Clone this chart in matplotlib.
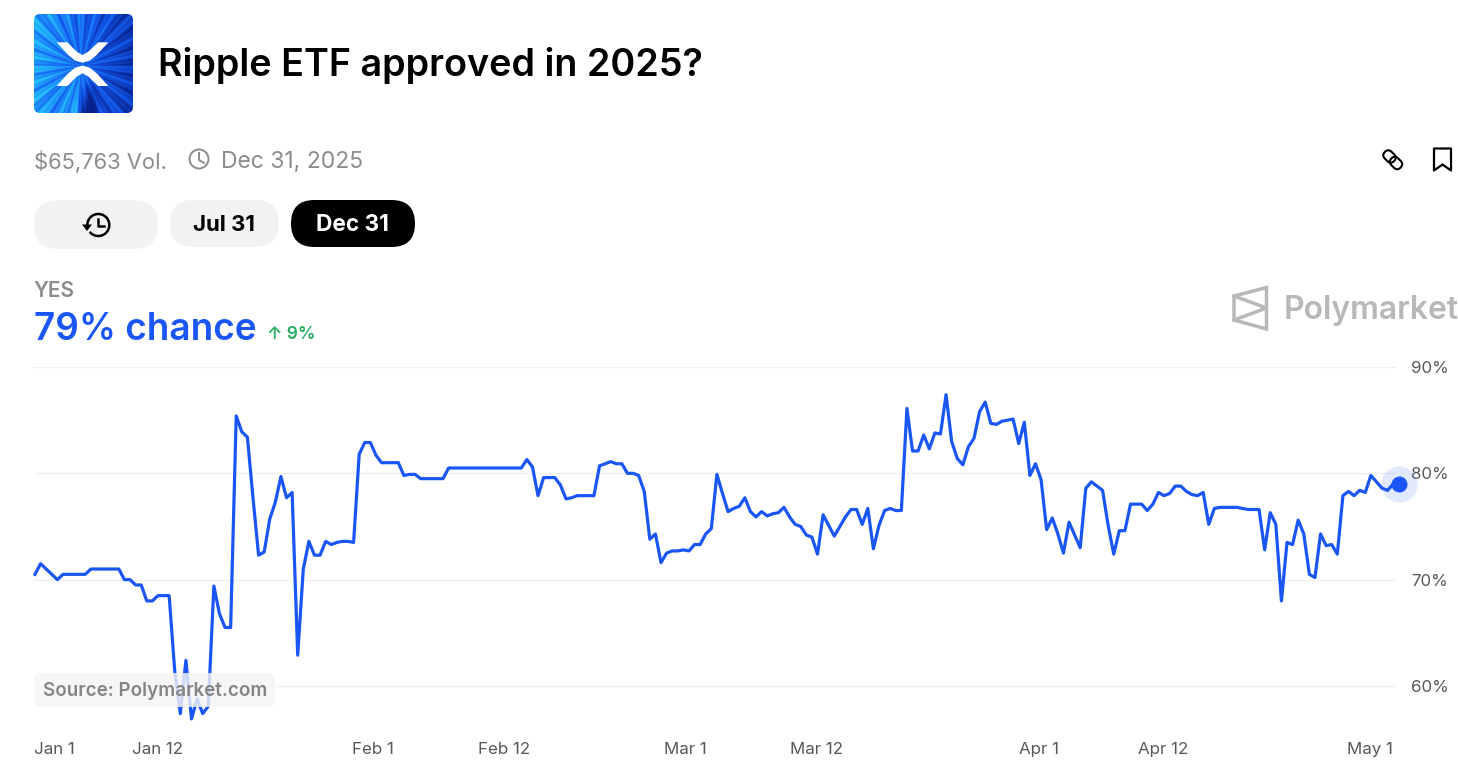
import matplotlib
matplotlib.use('Agg')
import matplotlib.pyplot as plt
import numpy as np
from matplotlib.patches import FancyBboxPatch, Circle, Polygon
from matplotlib.transforms import Affine2D

plt.rcParams['font.family'] = ['Inter', 'DejaVu Sans']

# price of YES in %, one point every 12 hours
yes_pct = [
    70.5, 71.5, 71.0, 70.5, 70.0, 70.5, 70.5, 70.5, 70.5, 70.5, 71.0, 71.0, 71.0, 71.0, 71.0, 71.0,
    70.0, 70.0, 69.5, 69.5, 68.0, 68.0, 68.5, 68.5, 68.5, 61.4, 57.4, 62.4, 56.9, 58.8, 57.4, 58.1,
    69.4, 66.8, 65.5, 65.5, 85.4, 83.9, 83.4, 77.7, 72.3, 72.6, 75.7, 77.3, 79.7, 77.7, 78.2, 62.9,
    71.0, 73.6, 72.3, 72.3, 73.6, 73.3, 73.5, 73.6, 73.6, 73.5, 81.8, 82.9, 82.9, 81.7, 81.0, 81.0,
    81.0, 81.0, 79.8, 79.9, 79.9, 79.5, 79.5, 79.5, 79.5, 79.5, 80.5, 80.5, 80.5, 80.5, 80.5, 80.5,
    80.5, 80.5, 80.5, 80.5, 80.5, 80.5, 80.5, 80.5, 81.3, 80.6, 77.9, 79.6, 79.6, 79.6, 78.9, 77.6,
    77.7, 77.9, 77.9, 77.9, 77.9, 80.7, 80.9, 81.1, 80.9, 80.9, 80.0, 80.0, 79.8, 78.3, 73.8, 74.3,
    71.6, 72.5, 72.7, 72.7, 72.8, 72.7, 73.3, 73.3, 74.3, 74.8, 79.9, 78.1, 76.4, 76.7, 76.9, 77.7,
    76.4, 75.9, 76.4, 76.0, 76.2, 76.3, 76.8, 75.9, 75.2, 75.0, 74.2, 74.0, 72.4, 76.1, 75.1, 74.1,
    75.0, 75.9, 76.6, 76.6, 75.2, 76.7, 72.9, 75.1, 76.5, 76.7, 76.5, 76.5, 86.1, 82.1, 82.1, 83.6,
    82.3, 83.8, 83.7, 87.4, 83.0, 81.4, 80.8, 82.5, 83.3, 85.8, 86.7, 84.7, 84.6, 84.9, 85.0, 85.1,
    82.8, 84.8, 79.8, 80.9, 79.4, 74.7, 75.8, 74.3, 72.5, 75.4, 74.2, 73.0, 78.6, 79.2, 78.8, 78.4,
    75.1, 72.4, 74.6, 74.6, 77.1, 77.1, 77.1, 76.5, 77.1, 78.2, 77.9, 78.1, 78.8, 78.8, 78.3, 78.0,
    77.9, 78.2, 75.2, 76.7, 76.8, 76.8, 76.8, 76.8, 76.7, 76.6, 76.6, 76.6, 72.8, 76.3, 75.2, 68.0,
    73.5, 73.3, 75.6, 74.3, 70.5, 70.2, 74.3, 73.2, 73.3, 72.4, 77.9, 78.3, 77.9, 78.4, 78.2, 79.8,
    79.2, 78.6, 78.4, 79.0, 79.0,
]
y_ticks = [60, 70, 80, 90]
y_labels = ['60%', '70%', '80%', '90%']
date_labels = ['Jan 1', 'Jan 12', 'Feb 1', 'Feb 12', 'Mar 1', 'Mar 12', 'Apr 1', 'Apr 12', 'May 1']
date_pos = [3.4, 22.0, 60.4, 83.9, 116.4, 139.9, 179.6, 201.8, 238.8]

BLUE = '#1a56f5'
GREY = '#8c8c8c'
MARK = '#b8b8b8'
W, H = 1458, 782

fig = plt.figure(figsize=(W / 100, H / 100), dpi=100, facecolor='white')

# --- chart: 34..1396 px wide, 367..720 px high ---
ax = fig.add_axes([34 / W, 1 - 720 / H, (1396 - 34) / W, (720 - 367) / H])
x = np.arange(len(yes_pct))
ax.plot(x, yes_pct, color=BLUE, linewidth=2.3, solid_joinstyle='round', clip_on=False, zorder=3)
ax.plot(x[-1], yes_pct[-1], 'o', color=BLUE, markersize=26, alpha=0.13, mew=0, clip_on=False, zorder=4)
ax.plot(x[-1], yes_pct[-1], 'o', color=BLUE, markersize=11.5, mew=0, clip_on=False, zorder=5)

ax.set_xlim(-0.18, 243.5)
ax.set_ylim(56.8, 90)
ax.set_yticks(y_ticks)
ax.set_yticklabels(y_labels)
ax.set_xticks(date_pos)
ax.set_xticklabels(date_labels)
ax.yaxis.tick_right()
ax.tick_params(axis='y', length=0, pad=11, labelsize=12.2, labelcolor='#55585c')
ax.tick_params(axis='x', length=0, pad=16, labelsize=12.2, labelcolor='#55585c')
ax.grid(axis='y', color='#f0f0f0', linewidth=1)
ax.set_axisbelow(True)
for s in ax.spines.values():
    s.set_visible(False)

# --- everything else, placed in screen pixels ---
ov = fig.add_axes([0, 0, 1, 1], facecolor='none')
ov.set_axis_off()


def pill(x0, y0, x1, y1, color, alpha=1.0, r=None):
    r = (y1 - y0) / 2 if r is None else r
    p = FancyBboxPatch((x0, y0), x1 - x0, y1 - y0, boxstyle=f'round,pad=0,rounding_size={r}',
                       fc=color, ec='none', alpha=alpha)
    ov.add_patch(p)
    return p


# icon, a blue burst behind the white X
yy, xx = np.mgrid[-1:1:300j, -1:1:300j]
ang = np.arctan2(yy - 0.05, xx + 0.05)
rad = np.hypot(xx + 0.05, yy - 0.05)
burst = 0.52 - 0.32 * xx + 0.14 * np.sin(ang * 23) + 0.1 * np.sin(ang * 61) + 0.07 * np.sin(ang * 131 + rad * 4)
burst = burst - 0.45 * np.clip(yy - 0.3, 0, 1) * np.exp(-((xx - 0.1) / 0.18) ** 2) * 3
burst = burst + 0.35 * np.exp(-((xx + 0.1) / 0.25) ** 2) * np.clip(yy, 0, 1)
burst = np.clip(burst, 0, 1)[..., None]
dark, mid, light = np.array([0.03, 0.13, 0.55]), np.array([0.08, 0.36, 0.95]), np.array([0.15, 0.78, 1.0])
img = np.where(burst < 0.5, dark + (mid - dark) * burst * 2, mid + (light - mid) * (burst - 0.5) * 2)
im = ov.imshow(img, extent=(34, 133, 113, 14), aspect='auto', zorder=1)
clip = FancyBboxPatch((34, 14), 99, 99, boxstyle='round,pad=0,rounding_size=6', fc='none', ec='none',
                      transform=ov.transData)
ov.add_patch(clip)
im.set_clip_path(clip)
arm_top = [(56.7, 42.3), (67.3, 42.3), (76.7, 51.7), (82.5, 55), (88.3, 51.7), (98.3, 42.3), (108.3, 42.3),
           (96.7, 55), (90, 60.5), (82.5, 62.7), (75, 60.5), (68.3, 55)]
ov.add_patch(Polygon(arm_top, fc='white', ec='none', zorder=2))
ov.add_patch(Polygon([(a, 128.3 - b) for a, b in arm_top], fc='white', ec='none', zorder=2))

ov.text(158, 66, 'Ripple ETF approved in 2025?', fontsize=27.2, fontweight='semibold', color='black', va='center')
ov.text(34, 161.5, '$65,763 Vol.', fontsize=15.8, color=GREY, va='center')
ov.text(221, 161.5, 'Dec 31, 2025', fontsize=16.5, color=GREY, va='center')

# clock
ov.add_patch(Circle((199, 159), 9.5, fc='none', ec=GREY, lw=1.4))
ov.plot([199, 199, 204], [153, 160, 163], color=GREY, lw=1.4)

# link + bookmark
for cx, cy in [(1389.5, 156.5), (1396, 163)]:
    ov.add_patch(FancyBboxPatch((cx - 6.5, cy - 4.8), 13, 9.6, boxstyle='round,pad=0,rounding_size=4.8',
                                fc='none', ec='black', lw=1.5,
                                transform=Affine2D().rotate_deg_around(cx, cy, 45) + ov.transData))
ov.add_patch(Polygon([(1434, 148.5), (1451, 148.5), (1451, 170.5), (1442.5, 164.5), (1434, 170.5)],
                     fc='none', ec='black', lw=1.6, joinstyle='round'))

# pills
pill(34, 200, 158, 249, '#f2f2f2')
pill(170, 200, 279, 247, '#f2f2f2')
pill(291, 200, 415, 247, 'black')
ov.text(224, 225, 'Jul 31', fontsize=16, fontweight='bold', color='black', ha='center', va='center')
ov.text(352, 225, 'Dec 31', fontsize=16.3, fontweight='bold', color='white', ha='center', va='center')

# history icon
a = np.radians(np.linspace(-185, 135, 80))
ov.plot(98.3 + 11 * np.cos(a), 225 + 11 * np.sin(a), color='black', lw=1.8)
ov.plot([98.3, 98.3, 104], [218.5, 225.5, 225.5], color='black', lw=1.8)
ov.add_patch(Polygon([(82, 224.5), (92, 224.5), (87, 231)], fc='black', ec='none'))

# headline
ov.text(33, 291, 'YES', fontsize=15, fontweight='semibold', color=GREY, va='center')
ov.text(34, 330, '79% chance', fontsize=26.6, fontweight='semibold', color=BLUE, va='center')
ov.text(267, 334.5, '↑ 9%', fontsize=12.6, fontweight='semibold', color='#27ae60', va='center')

# watermark
ov.add_patch(Polygon([(1234, 296), (1266.5, 287.5), (1266.5, 329), (1234, 320)], fc='none', ec=MARK, lw=2.5))
ov.plot([1234, 1266.5, 1234], [296, 308, 320], color=MARK, lw=2.5)
ov.text(1284, 310.5, 'Polymarket', fontsize=23, fontweight='semibold', color=MARK, va='center')

# source badge sits over the line
pill(34, 673, 275, 707, '#f5f5f5', alpha=0.82, r=7)
ov.text(43, 691.5, 'Source: Polymarket.com', fontsize=13.55, fontweight='semibold', color='#858585', va='center')

ov.set_xlim(0, W)
ov.set_ylim(H, 0)

fig.savefig('out.png', dpi=100)
